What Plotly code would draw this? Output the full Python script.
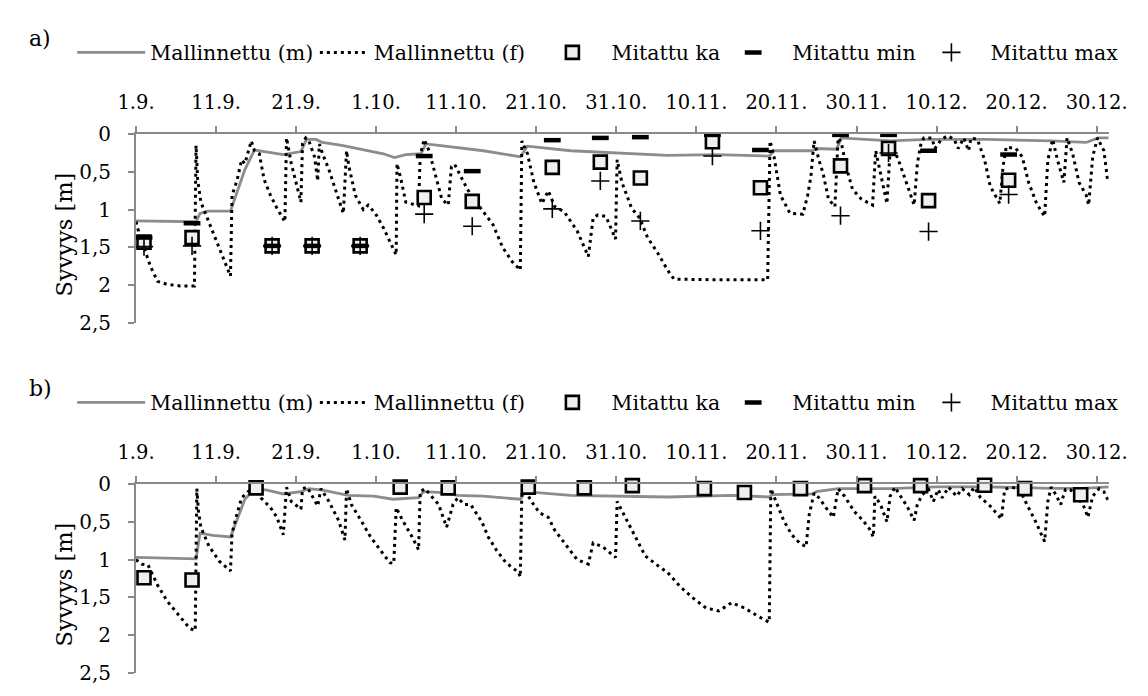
import plotly.graph_objects as go

# ---- axis labelling -------------------------------------------------------
TICK_DAYS = list(range(0, 121, 10))          # days after 1.9.
TICK_LABELS = ["1.9.", "11.9.", "21.9.", "1.10.", "11.10.", "21.10.", "31.10.",
               "10.11.", "20.11.", "30.11.", "10.12.", "20.12.", "30.12."]
SERIES_NAMES = ["Mallinnettu (m)", "Mallinnettu (f)", "Mitattu ka", "Mitattu min", "Mitattu max"]

# ---- panel a: modelled depths (day, depth m) -------------------------------
A_M_DAY = [0, 7.5, 8.0, 9.0, 11.8, 12.8, 13.6, 14.8, 18.4, 20.6, 21.3, 22.5, 23.3, 25.7,
           28.1, 30.9, 32.3, 33.7, 35.6, 36.2, 37.8, 43.4, 48.0, 48.9, 54.3, 60.3, 66.4,
           72.4, 79.1, 79.7, 84.5, 84.9, 87.5, 88.1, 94.2, 99.0, 106.3, 114.3, 118.7,
           120.2, 121.5]
A_M_DEPTH = [1.15, 1.16, 1.05, 1.02, 1.02, 0.71, 0.47, 0.21, 0.27, 0.23, 0.07, 0.07, 0.11,
             0.15, 0.20, 0.26, 0.31, 0.27, 0.26, 0.13, 0.15, 0.22, 0.30, 0.16, 0.22, 0.25,
             0.28, 0.27, 0.29, 0.22, 0.22, 0.19, 0.20, 0.05, 0.09, 0.07, 0.07, 0.09, 0.11,
             0.05, 0.05]

A_F_DAY = [0.0, 0.3, 1.0, 1.8, 2.7, 3.9, 5.5, 7.3, 7.5, 7.7, 8.1, 9.1, 10.4, 11.8, 12.0,
           12.6, 13.2, 13.6, 14.4, 14.8, 15.4, 16.0, 16.8, 17.6, 18.6, 18.8, 19.4, 20.0,
           20.6, 20.8, 21.2, 21.6, 22.3, 22.7, 22.9, 23.3, 24.1, 24.9, 25.9, 26.3, 26.6,
           27.4, 28.4, 29.0, 29.9, 30.9, 31.7, 32.5, 32.6, 33.1, 33.7, 34.3, 35.3, 35.5,
           36.0, 36.6, 37.4, 38.2, 39.0, 39.4, 39.8, 40.6, 41.4, 42.2, 43.4, 44.6, 45.8,
           47.0, 48.0, 48.2, 48.9, 49.7, 50.7, 51.5, 52.3, 53.5, 55.1, 56.5, 57.1, 57.7,
           58.7, 59.9, 60.1, 60.7, 61.9, 62.9, 63.9, 65.2, 66.4, 67.2, 73.0, 78.9, 79.2,
           79.7, 80.5, 81.7, 83.3, 83.9, 84.3, 84.7, 85.3, 85.8, 86.5, 87.3, 87.7, 88.1,
           88.7, 89.5, 90.6, 92.0, 92.4, 92.8, 93.8, 94.2, 94.6, 95.4, 96.2, 97.2, 97.6,
           98.0, 98.4, 99.4, 99.8, 100.6, 101.4, 102.2, 102.7, 103.4, 104.0, 104.3, 105.1,
           106.0, 106.7, 107.9, 108.3, 108.7, 109.9, 110.7, 111.5, 112.5, 113.5, 113.9,
           114.5, 115.1, 115.9, 116.3, 117.0, 117.8, 118.7, 119.0, 119.5, 120.1, 120.9,
           121.4]
A_F_DEPTH = [1.16, 1.28, 1.50, 1.75, 1.95, 1.99, 2.01, 2.01, 0.15, 0.60, 0.90, 1.16, 1.50,
             1.88, 0.81, 0.62, 0.34, 0.39, 0.09, 0.22, 0.26, 0.60, 0.81, 0.98, 1.16, 0.05,
             0.39, 0.64, 0.90, 0.13, 0.05, 0.09, 0.30, 0.62, 0.13, 0.26, 0.47, 0.73, 1.05,
             0.22, 0.43, 0.81, 1.00, 0.94, 1.05, 1.24, 1.41, 1.60, 0.39, 0.60, 0.90, 0.92,
             0.95, 0.28, 0.07, 0.22, 0.56, 0.86, 0.94, 0.43, 0.40, 0.56, 0.73, 0.86, 1.03,
             1.20, 1.50, 1.69, 1.80, 0.09, 0.26, 0.64, 0.92, 0.75, 0.96, 1.03, 1.28, 1.62,
             1.11, 1.07, 1.09, 1.39, 0.34, 0.64, 0.98, 1.11, 1.37, 1.58, 1.80, 1.92, 1.93,
             1.93, 0.09, 0.30, 0.81, 1.05, 1.06, 0.81, 0.56, 0.09, 0.34, 0.51, 0.86, 0.96,
             0.05, 0.11, 0.43, 0.73, 0.86, 0.94, 0.22, 0.43, 0.92, 0.22, 0.18, 0.39, 0.64,
             0.94, 0.39, 0.15, 0.05, 0.05, 0.19, 0.07, 0.02, 0.07, 0.19, 0.05, 0.22, 0.05,
             0.07, 0.34, 0.69, 0.92, 0.43, 0.17, 0.19, 0.30, 0.64, 0.92, 1.09, 0.34, 0.07,
             0.34, 0.64, 0.05, 0.26, 0.64, 0.81, 0.94, 0.30, 0.05, 0.22, 0.64]

# ---- panel a: measured depths ----------------------------------------------
A_MEAS_DAY = [1, 7, 17, 22, 28, 36, 42, 52, 58, 63, 72, 78, 88, 94, 99, 109]
A_MEAS_KA = [1.43, 1.37, 1.48, 1.48, 1.48, 0.84, 0.89, 0.44, 0.37, 0.58, 0.10, 0.71, 0.42,
             0.19, 0.88, 0.61]
A_MEAS_MIN = [1.37, 1.18, 1.48, 1.48, 1.48, 0.29, 0.49, 0.08, 0.05, 0.04, 0.01, 0.21, 0.01,
              0.01, 0.22, 0.27]
A_MEAS_MAX = [1.49, 1.48, 1.48, 1.48, 1.48, 1.06, 1.22, 0.99, 0.62, 1.15, 0.29, 1.28, 1.08,
              0.25, 1.29, 0.80]

# ---- panel b: modelled depths ----------------------------------------------
B_M_DAY = [0, 7.5, 8.0, 9.6, 11.8, 12.6, 13.6, 14.8, 16.4, 18.4, 20.6, 21.6, 23.3, 26.5,
           29.7, 32.1, 35.3, 35.9, 37.8, 40.2, 43.4, 48.0, 48.6, 54.3, 60.0, 66.4, 74.4,
           79.1, 79.5, 84.5, 85.0, 87.7, 94.2, 100.0, 106.3, 110.3, 114.3, 118.3, 121.5]
B_M_DEPTH = [0.97, 0.99, 0.65, 0.68, 0.70, 0.48, 0.20, 0.06, 0.08, 0.13, 0.10, 0.06, 0.08,
             0.15, 0.16, 0.20, 0.18, 0.10, 0.11, 0.15, 0.16, 0.20, 0.10, 0.15, 0.16, 0.17,
             0.15, 0.17, 0.14, 0.13, 0.10, 0.06, 0.06, 0.035, 0.035, 0.047, 0.055, 0.055,
             0.035]

B_F_DAY = [0.0, 0.7, 1.5, 2.7, 3.9, 5.5, 6.7, 7.4, 7.6, 7.8, 8.1, 9.1, 10.4, 11.8, 12.0,
           12.6, 13.2, 14.0, 14.8, 15.6, 16.8, 17.6, 18.4, 18.8, 19.4, 20.6, 20.8, 21.4,
           22.0, 22.7, 23.1, 24.1, 25.3, 26.1, 26.3, 26.9, 28.1, 29.3, 30.5, 31.7, 32.2,
           32.5, 33.3, 34.5, 35.3, 35.5, 36.1, 36.9, 37.8, 38.8, 39.6, 40.2, 41.0, 41.8,
           42.6, 43.2, 44.0, 45.0, 46.2, 47.8, 48.0, 48.2, 48.8, 49.4, 50.4, 51.5, 52.3,
           53.5, 55.1, 56.5, 57.1, 58.3, 59.9, 60.1, 61.1, 62.4, 63.6, 65.2, 66.4, 68.0,
           69.6, 71.2, 72.8, 74.4, 76.0, 77.7, 79.1, 79.3, 80.1, 80.9, 81.9, 82.9, 83.7,
           84.1, 84.7, 85.3, 86.1, 87.1, 87.7, 88.5, 89.7, 90.8, 91.6, 92.1, 92.3, 93.0,
           93.8, 94.2, 94.8, 95.4, 96.4, 97.2, 97.6, 98.2, 99.0, 99.6, 100.2, 100.7, 101.5,
           102.5, 103.2, 104.1, 104.7, 105.5, 106.7, 108.1, 108.5, 109.3, 110.3, 111.1,
           112.3, 113.5, 113.9, 114.3, 114.9, 115.5, 116.1, 116.7, 117.4, 118.3, 118.9,
           119.5, 120.3, 120.9, 121.4]
B_F_DEPTH = [1.00, 1.06, 1.07, 1.34, 1.55, 1.76, 1.91, 1.94, 0.06, 0.36, 0.57, 0.82, 1.02,
             1.15, 0.65, 0.40, 0.18, 0.10, 0.04, 0.18, 0.31, 0.44, 0.67, 0.04, 0.23, 0.33,
             0.06, 0.04, 0.15, 0.29, 0.06, 0.23, 0.48, 0.74, 0.06, 0.27, 0.48, 0.70, 0.87,
             1.04, 1.05, 0.31, 0.48, 0.70, 0.87, 0.10, 0.06, 0.16, 0.27, 0.57, 0.27, 0.18,
             0.27, 0.27, 0.40, 0.50, 0.70, 0.87, 1.04, 1.17, 1.23, 0.10, 0.12, 0.23, 0.38,
             0.44, 0.61, 0.78, 1.00, 1.06, 0.78, 0.83, 0.97, 0.23, 0.44, 0.70, 0.95, 1.08,
             1.17, 1.36, 1.51, 1.64, 1.68, 1.57, 1.64, 1.75, 1.83, 0.06, 0.27, 0.48, 0.67,
             0.78, 0.83, 0.40, 0.12, 0.18, 0.30, 0.44, 0.06, 0.16, 0.36, 0.48, 0.59, 0.70,
             0.16, 0.27, 0.50, 0.16, 0.04, 0.14, 0.31, 0.48, 0.27, 0.14, 0.07, 0.23, 0.07,
             0.18, 0.04, 0.16, 0.06, 0.14, 0.04, 0.18, 0.29, 0.46, 0.07, 0.04, 0.06, 0.23,
             0.48, 0.76, 0.23, 0.04, 0.14, 0.27, 0.07, 0.07, 0.16, 0.27, 0.44, 0.16, 0.06,
             0.10, 0.21]

# ---- panel b: measured depths (averages only) -------------------------------
B_MEAS_DAY = [1, 7, 15, 33, 39, 49, 56, 62, 71, 76, 83, 91, 98, 106, 111, 118]
B_MEAS_KA = [1.24, 1.27, 0.05, 0.04, 0.05, 0.04, 0.05, 0.02, 0.06, 0.11, 0.06, 0.02, 0.02,
             0.015, 0.06, 0.14]

# ---- styling ----------------------------------------------------------------
W, H = 1148, 696
FONT = "DejaVu Serif"
AXIS_GREY = "#8a8a8a"
M_GREY = "#8c8c8c"


def px_x(p):
    return p / W


def px_y(p):
    return 1 - p / H


fig = go.Figure()


def add_panel(suffix, legends, m_day, m_depth, f_day, f_depth, meas_day, ka, mn, mx):
    xa, ya = "x" + suffix, "y" + suffix
    fig.add_trace(go.Scatter(x=m_day, y=m_depth, mode="lines", name=SERIES_NAMES[0],
                             line=dict(color=M_GREY, width=2.8), xaxis=xa, yaxis=ya,
                             legend=legends[0]))
    fig.add_trace(go.Scatter(x=f_day, y=f_depth, mode="lines", name=SERIES_NAMES[1],
                             line=dict(color="black", width=3, dash="3px,4px"),
                             xaxis=xa, yaxis=ya, legend=legends[1]))
    fig.add_trace(go.Scatter(x=meas_day, y=ka, mode="markers", name=SERIES_NAMES[2],
                             marker=dict(symbol="square", size=13, color="#efefef",
                                         line=dict(color="black", width=2.6)),
                             cliponaxis=False, xaxis=xa, yaxis=ya, legend=legends[2]))
    fig.add_trace(go.Scatter(x=meas_day if mn else [None], y=mn if mn else [None],
                             mode="markers", name=SERIES_NAMES[3],
                             marker=dict(symbol="line-ew", size=12, color="black",
                                         line=dict(color="black", width=4.5)),
                             cliponaxis=False, xaxis=xa, yaxis=ya, legend=legends[3]))
    fig.add_trace(go.Scatter(x=meas_day if mx else [None], y=mx if mx else [None],
                             mode="markers", name=SERIES_NAMES[4],
                             marker=dict(symbol="cross-thin", size=13, color="black",
                                         line=dict(color="black", width=1.6)),
                             cliponaxis=False, xaxis=xa, yaxis=ya, legend=legends[4]))


add_panel("", ["legend", "legend2", "legend3", "legend4", "legend5"],
          A_M_DAY, A_M_DEPTH, A_F_DAY, A_F_DEPTH, A_MEAS_DAY, A_MEAS_KA, A_MEAS_MIN, A_MEAS_MAX)
add_panel("2", ["legend6", "legend7", "legend8", "legend9", "legend10"],
          B_M_DAY, B_M_DEPTH, B_F_DAY, B_F_DEPTH, B_MEAS_DAY, B_MEAS_KA, None, None)

x_dom = [px_x(121), px_x(1127)]
panels = [(126.5, 322.0), (489.0, 684.5)]   # top/bottom of each plot area (px)

xaxis_common = dict(range=[0, 121.5], side="top", tickmode="array", tickvals=TICK_DAYS,
                    ticktext=TICK_LABELS, ticks="outside", ticklen=6, tickwidth=1.5,
                    tickcolor=AXIS_GREY, showline=True, linecolor=AXIS_GREY, linewidth=2,
                    showgrid=False, zeroline=False, domain=x_dom, ticklabelstandoff=9,
                    tickfont=dict(family=FONT, size=19.5, color="black"))
yaxis_common = dict(range=[2.5, 0], dtick=0.5, tick0=0, ticks="outside", ticklen=6,
                    tickwidth=1.5, tickcolor=AXIS_GREY, showline=True, linecolor=AXIS_GREY,
                    linewidth=2, showgrid=False, zeroline=False, ticklabelstandoff=13,
                    tickfont=dict(family=FONT, size=20, color="black"))

fig.update_layout(
    xaxis=dict(xaxis_common, anchor="y"),
    yaxis=dict(yaxis_common, anchor="x", domain=[px_y(panels[0][1]), px_y(panels[0][0])]),
    xaxis2=dict(xaxis_common, anchor="y2"),
    yaxis2=dict(yaxis_common, anchor="x2", domain=[px_y(panels[1][1]), px_y(panels[1][0])]),
)

# one legend per entry, so each entry sits where it belongs in the row:
# (left edge px, symbol width px)
legend_slots = [(55, 68), (306, 49), (532, 68), (719, 68), (924, 68)]
legend_row = [42, 404.5]
for p, row_y in enumerate(legend_row):
    for i, (lx, iw) in enumerate(legend_slots):
        key = "legend" if (p == 0 and i == 0) else "legend%d" % (p * 5 + i + 1)
        fig.layout[key] = dict(x=px_x(lx), y=px_y(row_y), xanchor="left", yanchor="middle",
                               orientation="h", bgcolor="rgba(0,0,0,0)", borderwidth=0,
                               itemwidth=iw,
                               font=dict(family=FONT, size=20.5, color="black"))

for p, label in enumerate(["a)", "b)"]):
    fig.add_annotation(text=label, xref="paper", yref="paper", x=px_x(8), y=px_y(27 + 362.5 * p),
                       xanchor="left", yanchor="middle", showarrow=False,
                       font=dict(family=FONT, size=22, color="black"))
    fig.add_annotation(text="Syvyys [m]", xref="paper", yref="paper", x=px_x(47),
                       y=px_y(230 + 362.5 * p), xanchor="center", yanchor="middle",
                       textangle=-90, showarrow=False,
                       font=dict(family=FONT, size=22.5, color="black"))

fig.update_layout(width=W, height=H, autosize=False, margin=dict(l=0, r=0, t=0, b=0),
                  paper_bgcolor="white", plot_bgcolor="white", separators=", ",
                  showlegend=True, font=dict(family=FONT, color="black"))

fig.write_html("out.html", post_script="document.body.style.margin = '0';")
